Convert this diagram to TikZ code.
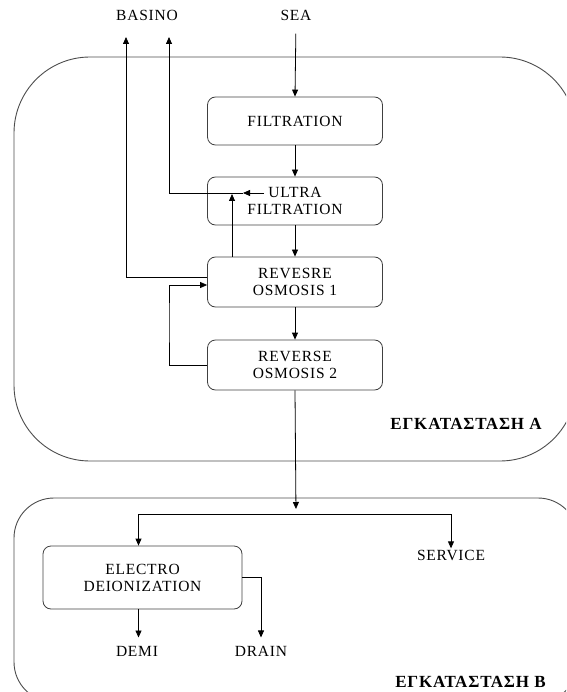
\documentclass[tikz,border=0pt]{standalone}
\usepackage{fontspec}
\setmainfont{Liberation Serif}[LetterSpace=5]
\usetikzlibrary{arrows.meta}
\begin{document}
\begin{tikzpicture}[x=1pt,y=-1pt,
  line width=0.8pt,
  arr/.style={-{Triangle[length=7pt,width=6pt]}},
  plant/.style={draw=black!70, line width=0.9pt},
  stage/.style={draw=black!75, rounded corners=8pt, minimum width=175pt,
    minimum height=48pt, align=center, inner sep=2pt,
    font=\fontsize{15.5}{17}\selectfont},
  lbl/.style={inner sep=1pt, font=\fontsize{15.5}{17}\selectfont},
  area/.style={inner sep=1pt, font=\fontsize{17}{19}\selectfont\bfseries}]
\useasboundingbox (0,0) rectangle (566,692);
\clip (0,0) rectangle (566,692);

% plant outlines
\draw[plant, rounded corners=76pt] (14,57) rectangle (576,461);
\draw[plant, rounded corners=40pt] (14,498) rectangle (578,702);

% process stages of plant A
\node[stage] (filt) at (295,121) {FILTRATION};
\node[stage] (ultra) at (295,201) {ULTRA\\FILTRATION};
\node[stage, minimum height=50pt] (ro1) at (295,282) {REVESRE\\OSMOSIS 1};
\node[stage, minimum height=50pt] (ro2) at (295,365) {REVERSE\\OSMOSIS 2};

% process stage of plant B
\node[stage, minimum width=199pt, minimum height=63pt] (edi) at (142.5,577.5) {ELECTRO\\DEIONIZATION};

% terminals
\node[lbl] (sea) at (296,15) {SEA};
\node[lbl] (basino) at (147,15) {BASINO};
\node[lbl] (service) at (451,555) {SERVICE};
\node[lbl] (demi) at (137,651) {DEMI};
\node[lbl] (drain) at (261,651) {DRAIN};

% plant names
\node[area, anchor=east] (plA) at (543,424) {ΕΓΚΑΤΑΣΤΑΣΗ Α};
\node[area, anchor=east] (plB) at (547,682) {ΕΓΚΑΤΑΣΤΑΣΗ Β};

% auxiliary points
\coordinate (basL) at (126,37);
\coordinate (basR) at (169,37);
\coordinate (uaS) at (264,193);
\coordinate (uaE) at (243,193);
\coordinate (roUp) at (232,194);
\coordinate (loop) at (169,320);
\coordinate (split) at (296,514);

% main line
\draw[arr, shorten <=12pt] (sea.south) -- (filt.north);
\draw[arr] (filt.south) -- (ultra.north);
\draw[arr] (ultra.south) -- (ro1.north);
\draw[arr] (ro1.south) -- (ro2.north);

% rejects to basin
\draw[arr] (uaS) -- (uaE);
\draw[arr] (uaE) -| (basR);
\draw[arr] ([yshift=5pt]ro1.west) -| (basL);
\draw[arr] (ro1.north -| roUp) -- (roUp);

% recirculation of the second pass
\draw[arr] (ro2.west) -| (loop) |- ([yshift=-3pt]ro1.west);

% transfer to plant B
\draw[arr, shorten >=5pt] (ro2.south) -- (split);
\draw[arr] (split) -| ([xshift=-4pt]edi.north);
\draw[arr] (split) -| (service.north);
\draw[arr, shorten >=7pt] ([xshift=-4pt]edi.south) -- ([xshift=-4pt]edi.south |- demi.north);
\draw[arr, shorten >=7pt] (edi.east) -| (drain.north);
\end{tikzpicture}
\end{document}
